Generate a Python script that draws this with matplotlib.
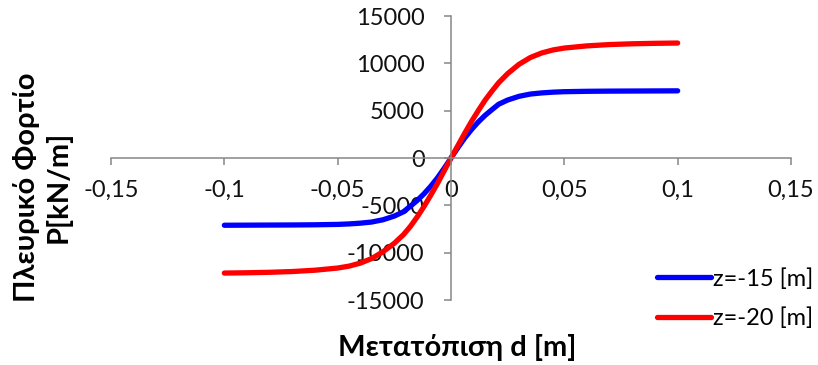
import matplotlib
matplotlib.use("Agg")
import matplotlib.pyplot as plt
from matplotlib.ticker import FixedLocator, FuncFormatter

plt.rcParams['font.family'] = ['Lato', 'DejaVu Sans']

# Displacement d [m] and lateral load P [kN/m] for the two depths
d_values = [-0.1, -0.09, -0.08, -0.07, -0.06, -0.05, -0.045, -0.04, -0.035, -0.03,
            -0.025, -0.021, -0.018, -0.015, -0.012, -0.009, -0.006, -0.003, 0.0,
            0.003, 0.006, 0.009, 0.012, 0.015, 0.018, 0.021, 0.025, 0.03,
            0.035, 0.04, 0.045, 0.05, 0.06, 0.07, 0.08, 0.09, 0.1]

p_z15 = [-7100, -7090, -7080, -7070, -7050, -7010, -6960, -6880, -6760, -6520,
         -6130, -5680, -5100, -4500, -3800, -3000, -2100, -1080, 0,
         1080, 2100, 3000, 3800, 4500, 5100, 5680, 6130, 6520,
         6760, 6880, 6960, 7010, 7050, 7070, 7080, 7090, 7100]

p_z20 = [-12150, -12120, -12070, -11990, -11850, -11620, -11420, -11100, -10620, -9900,
         -9000, -8100, -7250, -6250, -5150, -3950, -2700, -1350, 0,
         1300, 2600, 3850, 5000, 6100, 7050, 7950, 8920, 9900,
         10620, 11100, 11420, 11620, 11850, 11990, 12070, 12120, 12150]

series_labels = ["z=-15 [m]", "z=-20 [m]"]
series_colors = ["#0000ff", "#ff0000"]

x_ticks = [-0.15, -0.1, -0.05, 0, 0.05, 0.1, 0.15]
x_tick_labels = ["-0,15", "-0,1", "-0,05", "0", "0,05", "0,1", "0,15"]
y_ticks = [-15000, -10000, -5000, 0, 5000, 10000, 15000]

x_title = "Μετατόπιση d [m]"
y_title = "Πλευρικό Φορτίο\nP[kN/m]"

fig = plt.figure(figsize=(8.18, 3.65), dpi=100)
ax = fig.add_axes([0.1357, 0.178, 0.967 - 0.1357, 0.956 - 0.178])

lines = []
for vals, lab, col in zip([p_z15, p_z20], series_labels, series_colors):
    ln, = ax.plot(d_values, vals, color=col, lw=3.8, label=lab,
                  solid_capstyle='round', solid_joinstyle='round')
    lines.append(ln)

ax.set_xlim(-0.15, 0.15)
ax.set_ylim(-15000, 15000)

axis_grey = "#868686"
for side in ("top", "right"):
    ax.spines[side].set_visible(False)
ax.spines["left"].set_position(("data", 0))
ax.spines["bottom"].set_position(("data", 0))
for side in ("left", "bottom"):
    ax.spines[side].set_color(axis_grey)
    ax.spines[side].set_linewidth(1.1)

ax.xaxis.set_major_locator(FixedLocator(x_ticks))
ax.set_xticklabels(x_tick_labels)
ax.yaxis.set_major_locator(FixedLocator(y_ticks))
ax.yaxis.set_major_formatter(FuncFormatter(lambda v, p: f"{int(v)}"))

ax.tick_params(axis='both', direction='out', length=5, width=1.1,
               color=axis_grey, labelsize=17, labelcolor="#111111")
ax.tick_params(axis='x', pad=11)
ax.tick_params(axis='y', pad=14)

fig.text(0.559, 0.047, x_title, ha='center', va='center',
         fontsize=21, fontweight='bold')
fig.text(0.052, 0.487, y_title, ha='center', va='center', rotation=90,
         fontsize=21, fontweight='bold', linespacing=1.2)

leg = fig.legend(handles=lines, loc='lower right', bbox_to_anchor=(1.012, 0.06),
                 frameon=False, fontsize=17, handlelength=2.3, handletextpad=0.1,
                 labelspacing=0.75, borderaxespad=0.2)

fig.savefig("out.png", dpi=100)
